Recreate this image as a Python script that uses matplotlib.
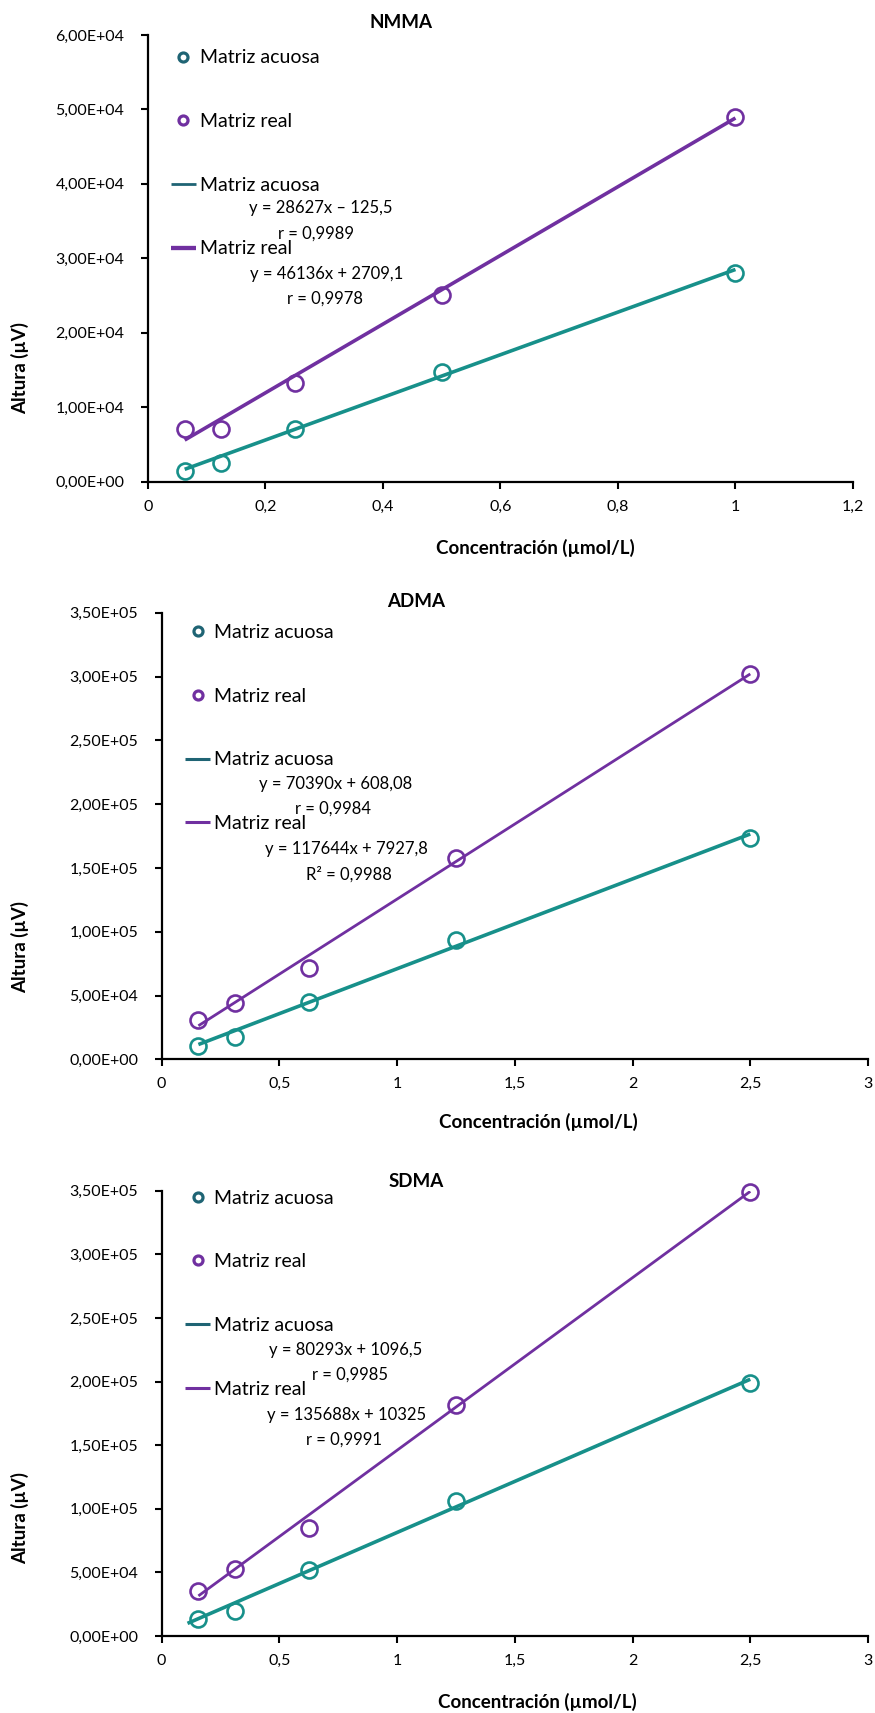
import matplotlib.pyplot as plt
from matplotlib.lines import Line2D
from matplotlib.ticker import FuncFormatter, MultipleLocator

plt.rcParams['font.family'] = ['Lato', 'DejaVu Sans']

# ============================================================
# DATA
# ============================================================

compounds = ['NMMA', 'ADMA', 'SDMA']

conc_nmma = [0.0625, 0.125, 0.25, 0.5, 1.0]
conc_dma = [0.15625, 0.3125, 0.625, 1.25, 2.5]

nmma_acuosa = [1480, 2470, 7040, 14700, 28000]
nmma_real = [7080, 7080, 13230, 25100, 48980]

adma_acuosa = [10660, 17240, 45140, 93260, 173700]
adma_real = [30800, 43900, 71800, 158000, 302000]

sdma_acuosa = [13130, 19650, 51900, 106400, 198700]
sdma_real = [35600, 52400, 84900, 181600, 349000]

# fitted calibration lines: slope, intercept
fit_slope = {'NMMA': (28627, 46136), 'ADMA': (70390, 117644), 'SDMA': (80293, 135688)}
fit_intercept = {'NMMA': (-125.5, 2709.1), 'ADMA': (608.08, 7927.8), 'SDMA': (1096.5, 10325)}
# start of each trend line (SDMA aqueous one is extended backwards a little)
fit_start = {'NMMA': (0.0625, 0.0625), 'ADMA': (0.15625, 0.15625), 'SDMA': (0.11, 0.15625)}

fit_labels = {
    'NMMA': ['y = 28627x – 125,5', 'r = 0,9989', 'y = 46136x + 2709,1', 'r = 0,9978'],
    'ADMA': ['y = 70390x + 608,08', 'r = 0,9984', 'y = 117644x + 7927,8', 'R² = 0,9988'],
    'SDMA': ['y = 80293x + 1096,5', 'r = 0,9985', 'y = 135688x + 10325', 'r = 0,9991'],
}

series_names = ['Matriz acuosa', 'Matriz real']

TEAL = '#17908a'
TEAL_DARK = '#1f6474'
PURPLE = '#7030a0'


def sci_comma(v, pos):
    return f'{v:.2E}'.replace('.', ',')


def dec_comma(v, pos):
    return f'{v:g}'.replace('.', ',')


# ============================================================
# CHART
# ============================================================

def calib_panel(ax, name, conc, acuosa, real, x_max, x_step, y_max, y_step, layout):
    slopes = fit_slope[name]
    inters = fit_intercept[name]
    starts = fit_start[name]
    lw_fit = layout['lw_fit']

    ax.plot(conc, acuosa, ls='none', marker='o', ms=11.5, mfc='none', mec=TEAL, mew=1.9,
            zorder=3, clip_on=False)
    ax.plot(conc, real, ls='none', marker='o', ms=11.5, mfc='none', mec=PURPLE, mew=1.9,
            zorder=3, clip_on=False)

    for k, col in enumerate([TEAL, PURPLE]):
        xs = [starts[k], conc[-1]]
        ys = [slopes[k] * x + inters[k] for x in xs]
        ax.plot(xs, ys, color=col, lw=lw_fit[k], solid_capstyle='butt', zorder=2)

    ax.set_xlim(0, x_max)
    ax.set_ylim(0, y_max)
    ax.xaxis.set_major_locator(MultipleLocator(x_step))
    ax.yaxis.set_major_locator(MultipleLocator(y_step))
    ax.xaxis.set_major_formatter(FuncFormatter(dec_comma))
    ax.yaxis.set_major_formatter(FuncFormatter(sci_comma))

    for side in ['top', 'right']:
        ax.spines[side].set_visible(False)
    for side in ['left', 'bottom']:
        ax.spines[side].set_linewidth(1.6)
    ax.tick_params(axis='both', direction='out', length=5, width=1.5, labelsize=11.5)
    ax.tick_params(axis='y', pad=12)
    ax.tick_params(axis='x', pad=8)

    ax.text(layout['title'][0], layout['title'][1], name, transform=ax.transAxes,
            ha='center', va='center', fontsize=13.5, fontweight='bold')
    ax.set_ylabel('Altura (µV)', fontsize=13.5, fontweight='bold', va='center')
    ax.yaxis.set_label_coords(*layout['ylabel'])
    ax.set_xlabel('Concentración (µmol/L)', fontsize=13.5, fontweight='bold', va='center')
    ax.xaxis.set_label_coords(*layout['xlabel'])

    lw_leg = layout['lw_leg']
    handles = [
        Line2D([], [], ls='none', marker='o', ms=6.5, mfc='none', mec=TEAL_DARK, mew=2.3),
        Line2D([], [], ls='none', marker='o', ms=6.5, mfc='none', mec=PURPLE, mew=2.3),
        Line2D([], [], color=TEAL_DARK, lw=lw_leg[0], solid_capstyle='butt'),
        Line2D([], [], color=PURPLE, lw=lw_leg[1], solid_capstyle='butt'),
    ]
    ax.legend(handles, series_names + series_names, loc='center left',
              bbox_to_anchor=layout['legend'], frameon=False, fontsize=14,
              borderaxespad=0, borderpad=0, handlelength=1.3, handletextpad=0.22,
              labelspacing=2.4)

    for txt, (tx, ty) in zip(fit_labels[name], layout['eq']):
        ax.text(tx, ty, txt, transform=ax.transAxes, ha='center', va='center', fontsize=12)


# ============================================================
# MAIN
# ============================================================

fig = plt.figure(figsize=(8.75, 17.13), dpi=100)

ax1 = fig.add_axes([0.1691, 0.7188, 0.8057, 0.2608])
ax2 = fig.add_axes([0.1847, 0.3816, 0.8073, 0.2607])
ax3 = fig.add_axes([0.1847, 0.04495, 0.8073, 0.2599])

calib_panel(ax1, 'NMMA', conc_nmma, nmma_acuosa, nmma_real, 1.2, 0.2, 60000, 10000, {
    'title': (0.359, 1.027), 'ylabel': (-0.1816, 0.2545), 'xlabel': (0.549, -0.1484),
    'legend': (0.032, 0.7347), 'lw_fit': (2.6, 2.6), 'lw_leg': (2.0, 3.1),
    'eq': [(0.2454, 0.6127), (0.2383, 0.5563), (0.2539, 0.4650), (0.2518, 0.4090)],
})
calib_panel(ax2, 'ADMA', conc_dma, adma_acuosa, adma_real, 3, 0.5, 350000, 50000, {
    'title': (0.360, 1.026), 'ylabel': (-0.2005, 0.2515), 'xlabel': (0.534, -0.1404),
    'legend': (0.033, 0.7418), 'lw_fit': (2.6, 2.0), 'lw_leg': (2.2, 2.2),
    'eq': [(0.2469, 0.6164), (0.2433, 0.5605), (0.2610, 0.4709), (0.2653, 0.4149)],
})
calib_panel(ax3, 'SDMA', conc_dma, sdma_acuosa, sdma_real, 3, 0.5, 350000, 50000, {
    'title': (0.361, 1.020), 'ylabel': (-0.2005, 0.265), 'xlabel': (0.532, -0.1476),
    'legend': (0.033, 0.7693), 'lw_fit': (2.6, 2.0), 'lw_leg': (2.2, 2.2),
    'eq': [(0.2610, 0.6424), (0.2667, 0.5863), (0.2625, 0.4964), (0.2582, 0.4402)],
})

fig.savefig('out.png', dpi=100)
